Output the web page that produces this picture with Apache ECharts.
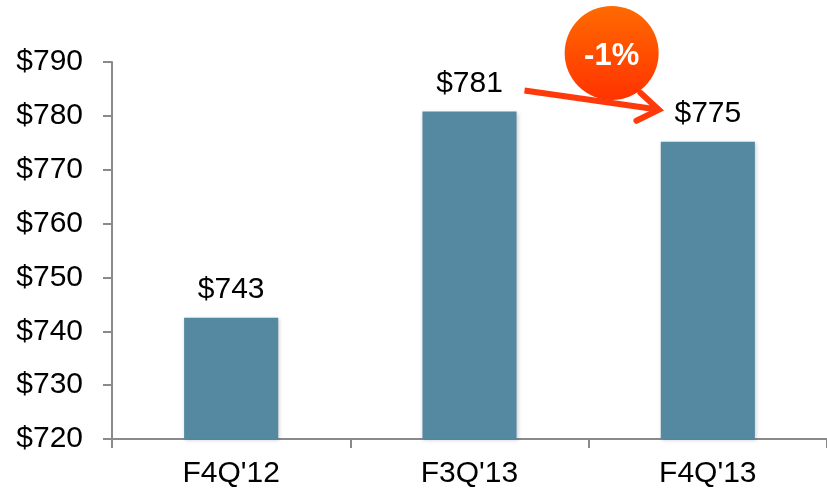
<!DOCTYPE html>
<html>
<head>
<meta charset="utf-8">
<script src="https://cdn.jsdelivr.net/npm/echarts@6/dist/echarts.min.js"></script>
<style>
html, body { margin: 0; padding: 0; background: #fff; }
#main { width: 827px; height: 493px; }
</style>
</head>
<body>
<div id="main"></div>
<script>
// data
const categories = ["F4Q'12", "F3Q'13", "F4Q'13"];
const revenue = [742.5, 780.8, 775.2];
const yTicks = [720, 730, 740, 750, 760, 770, 780, 790];
const changeText = '-1%';

const chart = echarts.init(document.getElementById('main'));
const font = 'Liberation Sans, Arial, sans-serif';

const option = {
    animation: false,
    grid: { left: 112, right: -6, top: 62, bottom: 54 },
    xAxis: {
        type: 'category',
        data: categories,
        axisLine: { lineStyle: { color: '#8a8a8a', width: 2 } },
        axisTick: { show: true, length: 9, lineStyle: { color: '#8a8a8a', width: 2 } },
        axisLabel: { color: '#000', fontSize: 30, fontFamily: font, margin: 20 }
    },
    yAxis: {
        type: 'value',
        min: yTicks[0],
        max: yTicks[yTicks.length - 1],
        interval: 10,
        splitLine: { show: false },
        axisLine: { show: true, lineStyle: { color: '#8a8a8a', width: 2 } },
        axisTick: { show: true, length: 9, lineStyle: { color: '#8a8a8a', width: 2 } },
        axisLabel: {
            color: '#000', fontSize: 30, fontFamily: font, margin: 29,
            formatter: v => '$' + v
        }
    },
    series: [{
        type: 'bar',
        data: revenue,
        barWidth: '39.5%',
        itemStyle: {
            color: '#5589a2',
            shadowColor: 'rgba(0,0,0,0.2)',
            shadowBlur: 4,
            shadowOffsetX: 1,
            shadowOffsetY: 1
        },
        label: {
            show: true,
            position: 'top',
            distance: 13,
            color: '#000',
            fontSize: 30,
            fontFamily: font,
            formatter: p => '$' + Math.round(p.value)
        }
    }]
};

chart.setOption(option);

// change annotation anchored to the 2nd and 3rd bars
const p1 = chart.convertToPixel({ gridIndex: 0 }, [1, revenue[1]]);
const p2 = chart.convertToPixel({ gridIndex: 0 }, [2, revenue[2]]);
const sx = p1[0] + 55, sy = p1[1] - 21;
const ex = p2[0] - 49, ey = p2[1] - 32;
const arrowColor = '#ff3a0a';
const ang = Math.atan2(ey - sy, ex - sx);
const barb = 25;
const h1 = [ex - barb * Math.cos(ang - 0.6), ey - barb * Math.sin(ang - 0.6)];
const h2 = [ex - barb * Math.cos(ang + 0.6), ey - barb * Math.sin(ang + 0.6)];
const cx = (p1[0] + p2[0]) / 2 + 23, cy = 53;

chart.setOption({
    graphic: [
        {
            type: 'line',
            shape: { x1: sx, y1: sy, x2: ex - 3 * Math.cos(ang), y2: ey - 3 * Math.sin(ang) },
            style: { stroke: arrowColor, lineWidth: 6 },
            z: 10
        },
        {
            type: 'polyline',
            shape: { points: [h1, [ex, ey], h2] },
            style: { stroke: arrowColor, lineWidth: 6, fill: null, lineJoin: 'miter', lineCap: 'round' },
            z: 10
        },
        {
            type: 'circle',
            shape: { cx: cx, cy: cy, r: 47 },
            style: {
                fill: new echarts.graphic.LinearGradient(0, 0, 0, 1, [
                    { offset: 0, color: '#ff6a00' },
                    { offset: 1, color: '#ff3300' }
                ])
            },
            z: 11
        },
        {
            type: 'text',
            x: cx,
            y: cy + 3,
            style: {
                text: changeText,
                fill: '#fff',
                font: 'bold 31px ' + font,
                textAlign: 'center',
                textVerticalAlign: 'middle'
            },
            z: 12
        }
    ]
});
</script>
</body>
</html>
